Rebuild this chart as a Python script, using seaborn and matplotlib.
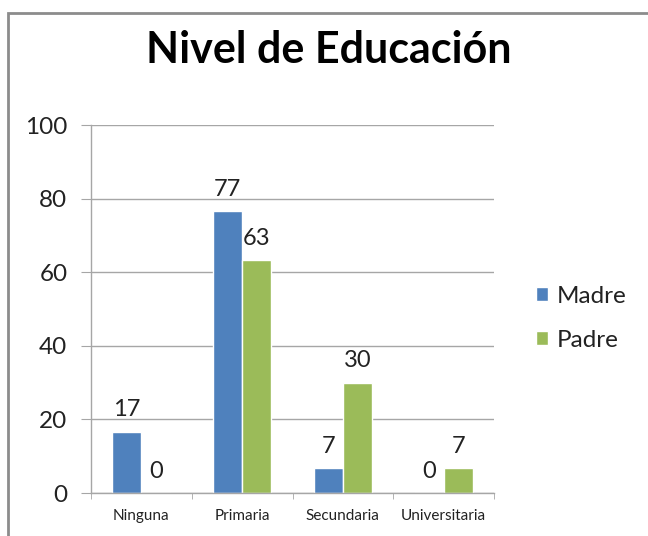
import pandas as pd
import seaborn as sns
import matplotlib.pyplot as plt
from matplotlib.patches import Rectangle

categorias = ["Ninguna", "Primaria", "Secundaria", "Universitaria"]
madre = [16.7, 76.7, 6.7, 0.0]
padre = [0.0, 63.3, 30.0, 6.7]
series = ["Madre", "Padre"]
colores = ["#4F81BD", "#9BBB59"]

df = pd.DataFrame({
    "nivel": categorias * 2,
    "valor": madre + padre,
    "grupo": ["Madre"] * 4 + ["Padre"] * 4,
})

sns.set_style("white")
plt.rcParams["font.family"] = ["Lato", "DejaVu Sans"]

fig = plt.figure(figsize=(6.48, 5.36), dpi=100)
ax = fig.add_axes([91 / 648, 1 - 493 / 536, (494 - 91) / 648, (493 - 125) / 536])

sns.barplot(data=df, x="nivel", y="valor", hue="grupo", hue_order=series,
            palette=colores, width=0.58, gap=0, saturation=1, ax=ax)

# etiquetas de datos
for cont in ax.containers:
    for bar in cont:
        h = bar.get_height()
        ax.annotate(f"{h:.0f}", (bar.get_x() + bar.get_width() / 2, h),
                    xytext=(0, 8), textcoords="offset points",
                    ha="center", va="bottom", fontsize=17, color="#222222")

ax.set_ylim(0, 100)
ax.set_xlim(-0.5, 3.5)
ax.set_yticks(range(0, 101, 20))
ax.yaxis.grid(True, color="#A6A6A6", linewidth=1)
ax.set_axisbelow(True)
ax.set_xlabel("")
ax.set_ylabel("")

for s in ["top", "right"]:
    ax.spines[s].set_visible(False)
for s in ["left", "bottom"]:
    ax.spines[s].set_color("#A6A6A6")
    ax.spines[s].set_linewidth(1)

ax.tick_params(axis="y", left=True, length=7, color="#A6A6A6", pad=10,
               labelsize=17.5, labelcolor="#222222")
ax.set_xticks([-0.5, 0.5, 1.5, 2.5, 3.5], minor=True)
ax.tick_params(axis="x", which="minor", bottom=True, length=4, color="#A6A6A6")
ax.tick_params(axis="x", which="major", bottom=False, labelsize=11, pad=8,
               labelcolor="#222222")

leg = ax.legend(loc="center left", bbox_to_anchor=(1.08, 0.475), frameon=False,
                fontsize=17.5, handlelength=0.5, handleheight=0.5,
                handletextpad=0.35, labelspacing=0.95, borderaxespad=0)
for t in leg.get_texts():
    t.set_color("#222222")

fig.text(329 / 648, 1 - 50 / 536, "Nivel de Educación", ha="center", va="center",
         fontsize=31, fontweight="bold", color="black")

# marco del grafico
fig.patches.append(Rectangle((8 / 648, -0.1), 1.2, 1 - 13 / 536 + 0.1,
                             transform=fig.transFigure, fill=False,
                             edgecolor="#8C8C8C", linewidth=2))

fig.savefig("out.png", dpi=100)
